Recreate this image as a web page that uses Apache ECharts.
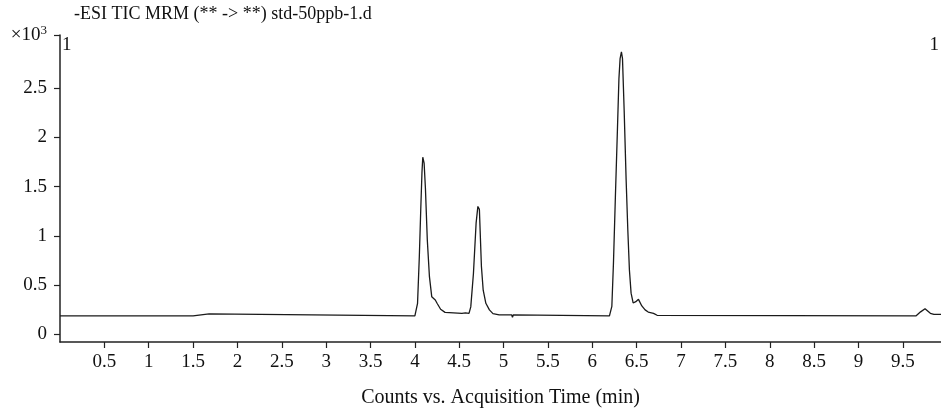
<!DOCTYPE html>
<html>
<head>
<meta charset="utf-8">
<script src="https://cdn.jsdelivr.net/npm/echarts@6/dist/echarts.min.js"></script>
<style>
html,body{margin:0;padding:0;background:#fff;}
#chart{width:941px;height:414px;}
</style>
</head>
<body>
<div id="chart"></div>
<script>
// Acquisition time (min)
var times = [0, 1.50, 1.51, 1.68, 1.69, 4.0, 4.03, 4.05, 4.066, 4.08, 4.089, 4.104, 4.119, 4.14, 4.164, 4.19, 4.23, 4.25, 4.29, 4.34, 4.53, 4.55, 4.57, 4.59, 4.61, 4.63, 4.66, 4.69, 4.71, 4.727, 4.75, 4.77, 4.80, 4.84, 4.88, 4.95, 5.09, 5.10, 5.11, 5.12, 6.193, 6.22, 6.238, 6.26, 6.283, 6.30, 6.313, 6.328, 6.34, 6.359, 6.381, 6.40, 6.418, 6.437, 6.46, 6.49, 6.52, 6.54, 6.558, 6.595, 6.63, 6.69, 6.73, 9.65, 9.70, 9.75, 9.81, 9.85, 9.93];
// Counts (x10^3)
var counts = [0.19, 0.19, 0.21, 0.21, 0.19, 0.19, 0.317, 0.79, 1.264, 1.65, 1.80, 1.74, 1.48, 0.96, 0.587, 0.384, 0.35, 0.317, 0.256, 0.225, 0.215, 0.205, 0.22, 0.2, 0.215, 0.28, 0.62, 1.13, 1.30, 1.27, 0.69, 0.45, 0.317, 0.25, 0.212, 0.2, 0.2, 0.175, 0.2, 0.19, 0.19, 0.285, 0.72, 1.40, 2.08, 2.60, 2.80, 2.87, 2.80, 2.27, 1.57, 1.06, 0.655, 0.42, 0.32, 0.333, 0.357, 0.343, 0.29, 0.25, 0.228, 0.215, 0.195, 0.19, 0.23, 0.262, 0.215, 0.205, 0.205];
var xTicks = [0.5, 1, 1.5, 2, 2.5, 3, 3.5, 4, 4.5, 5, 5.5, 6, 6.5, 7, 7.5, 8, 8.5, 9, 9.5];
var yTicks = [0, 0.5, 1, 1.5, 2, 2.5];
var titleText = '-ESI TIC MRM (** -> **) std-50ppb-1.d';
var xName = 'Counts vs. Acquisition Time (min)';
var segLabel = '1';

var X_MIN = 0, X_MAX = 9.93, Y_MIN = -0.076, Y_MAX = 3.04;
var FONT = '"Liberation Serif", "Times New Roman", serif';
var data = times.map(function (t, i) { return [t, counts[i]]; });

var chart = echarts.init(document.getElementById('chart'), null, {renderer: 'canvas'});
chart.setOption({
  animation: false,
  backgroundColor: '#ffffff',
  textStyle: {fontFamily: FONT, color: '#111'},
  title: {
    text: titleText, left: 69, top: 0,
    textStyle: {fontFamily: FONT, fontSize: 18, fontWeight: 'normal', color: '#111'}
  },
  grid: {left: 60, right: 0, top: 35, bottom: 72, containLabel: false},
  xAxis: {
    type: 'value', min: X_MIN, max: X_MAX,
    name: xName, nameLocation: 'middle', nameGap: 46,
    nameTextStyle: {fontFamily: FONT, fontSize: 20, color: '#111'},
    axisLine: {show: true, onZero: false, lineStyle: {color: '#222', width: 1.5}},
    axisTick: {show: true, length: 6, customValues: xTicks, lineStyle: {color: '#222', width: 1.2}},
    axisLabel: {customValues: xTicks, margin: 11, fontFamily: FONT, fontSize: 19, color: '#111'},
    splitLine: {show: false}
  },
  yAxis: {
    type: 'value', min: Y_MIN, max: Y_MAX,
    axisLine: {show: true, onZero: false, lineStyle: {color: '#222', width: 1.5}},
    axisTick: {show: true, length: 6, customValues: yTicks.concat([Y_MAX]), lineStyle: {color: '#222', width: 1.2}},
    axisLabel: {
      customValues: yTicks.concat([Y_MAX]), margin: 13, fontFamily: FONT, fontSize: 19, color: '#111',
      formatter: function (v) {
        if (Math.abs(v - Y_MAX) < 1e-6) return '{u|×10}{s|3}';
        return String(v);
      },
      rich: {
        u: {fontFamily: FONT, fontSize: 19, color: '#111'},
        s: {fontFamily: FONT, fontSize: 13, color: '#111', padding: [0, 0, 9, 0]}
      }
    },
    splitLine: {show: false}
  },
  graphic: [
    {type: 'text', left: 62, top: 36, style: {text: segLabel, font: '19px ' + FONT, fill: '#111'}},
    {type: 'text', right: 2, top: 36, style: {text: segLabel, font: '19px ' + FONT, fill: '#111'}}
  ],
  series: [{
    type: 'line', data: data, showSymbol: false, smooth: false,
    lineStyle: {color: '#1a1a1a', width: 1.3},
    clip: true
  }]
});
</script>
</body>
</html>
